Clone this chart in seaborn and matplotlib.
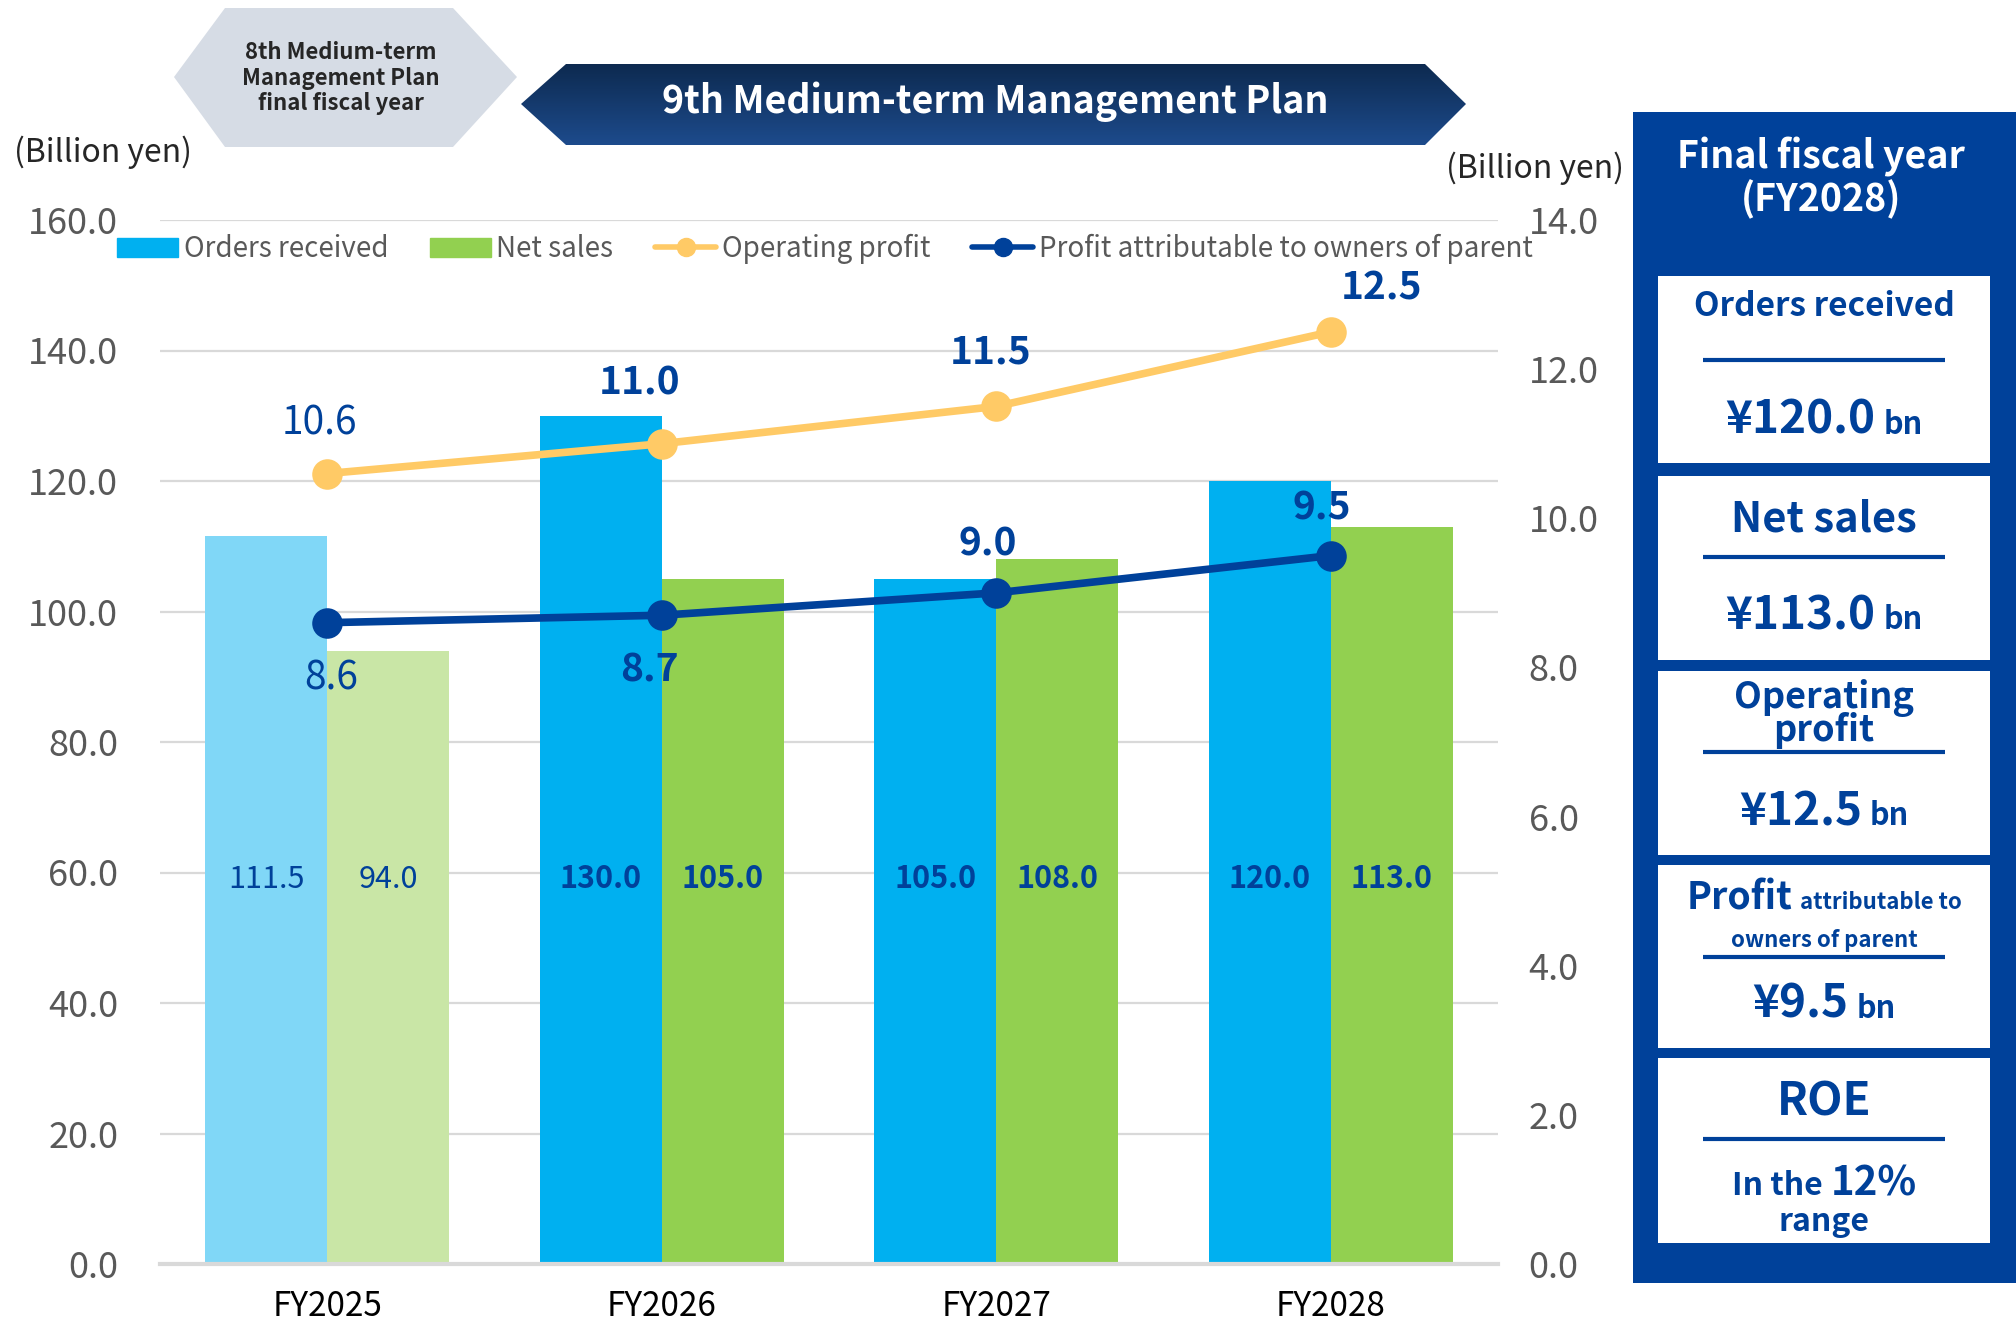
import numpy as np
import pandas as pd
import matplotlib
matplotlib.use("Agg")
import matplotlib.pyplot as plt
import seaborn as sns
from matplotlib.patches import Polygon, Rectangle, Patch
from matplotlib.lines import Line2D
from matplotlib.colors import LinearSegmentedColormap

# data
years = ["FY2025", "FY2026", "FY2027", "FY2028"]
orders = [111.5, 130.0, 105.0, 120.0]
net_sales = [94.0, 105.0, 108.0, 113.0]
op_profit = [10.6, 11.0, 11.5, 12.5]
parent_profit = [8.6, 8.7, 9.0, 9.5]

left_ticks = np.arange(0, 161, 20)
right_ticks = np.arange(0, 14.1, 2)

# colours
C_ORD = "#00B0F0"
C_ORD_LIGHT = "#80D7F7"
C_NET = "#92D050"
C_NET_LIGHT = "#C9E6A6"
C_OP = "#FFCA66"
C_PAR = "#00419A"
C_LBL = "#00419A"
C_GRAY = "#595959"

sns.set_style("white")
plt.rcParams["font.family"] = ["Noto Sans CJK JP", "DejaVu Sans"]

W, H = 2016, 1320
fig = plt.figure(figsize=(W / 100, H / 100), dpi=100)
ax = fig.add_axes([160 / W, 56 / H, 1338 / W, 1044 / H])
ax.set_facecolor("none")

# bars
df = pd.DataFrame({
    "year": years * 2,
    "metric": ["Orders received"] * 4 + ["Net sales"] * 4,
    "value": orders + net_sales,
})
sns.barplot(data=df, x="year", y="value", hue="metric", palette=[C_ORD, C_NET],
            width=0.73, saturation=1, linewidth=0, legend=False, ax=ax)
ax.containers[0][0].set_facecolor(C_ORD_LIGHT)
ax.containers[1][0].set_facecolor(C_NET_LIGHT)

for cont, vals in zip(ax.containers, [orders, net_sales]):
    for i, (bar, v) in enumerate(zip(cont, vals)):
        ax.text(bar.get_x() + bar.get_width() / 2, 59, f"{v:.1f}", ha="center", va="center",
                fontsize=22, color=C_LBL, fontweight="normal" if i == 0 else "bold")

ax.set_xlim(-0.5, 3.5)
ax.set_ylim(0, 160)
ax.set_yticks(left_ticks)
ax.set_yticklabels([f"{t:.1f}" for t in left_ticks])
ax.yaxis.grid(True, color="#D9D9D9", lw=1.6)
ax.set_axisbelow(True)
for s in ["top", "right", "left"]:
    ax.spines[s].set_visible(False)
ax.spines["bottom"].set_color("#D9D9D9")
ax.spines["bottom"].set_linewidth(3)
ax.tick_params(axis="y", length=0, pad=30, labelsize=26, labelcolor=C_GRAY)
ax.tick_params(axis="x", length=0, pad=18, labelsize=24, labelcolor="black")
ax.set_xlabel("")
ax.set_ylabel("")

# lines on secondary axis
ax2 = ax.twinx()
sns.lineplot(x=years, y=op_profit, ax=ax2, color=C_OP, lw=5.5, marker="o", markersize=22,
             markeredgewidth=0, sort=False)
sns.lineplot(x=years, y=parent_profit, ax=ax2, color=C_PAR, lw=5.5, marker="o", markersize=22,
             markeredgewidth=0, sort=False)
ax2.set_ylim(0, 14)
ax2.set_yticks(right_ticks)
ax2.set_yticklabels([f"{t:.1f}" for t in right_ticks])
ax2.tick_params(axis="y", length=0, pad=22, labelsize=26, labelcolor=C_GRAY)
ax2.grid(False)
for s in ax2.spines.values():
    s.set_visible(False)
ax2.set_ylabel("")

op_off = [(-8, 50), (-22, 61), (-6, 54), (51, 44)]
par_off = [(4, -56), (-12, -55), (-9, 49), (-9, 48)]
for line, vals, offs in [(ax2.lines[0], op_profit, op_off), (ax2.lines[1], parent_profit, par_off)]:
    xy = line.get_xydata()
    for i, ((x, y), v, o) in enumerate(zip(xy, vals, offs)):
        ax2.annotate(f"{v:.1f}", (x, y), xytext=o, textcoords="offset pixels", ha="center",
                     va="center", fontsize=28, color=C_LBL,
                     fontweight="normal" if i == 0 else "bold")

# legend
handles = [
    Patch(color=C_ORD),
    Patch(color=C_NET),
    Line2D([0], [0], color=C_OP, lw=4, marker="o", markersize=13),
    Line2D([0], [0], color=C_PAR, lw=4, marker="o", markersize=13),
]
labels = ["Orders received", "Net sales", "Operating profit", "Profit attributable to owners of parent"]
fig.legend(handles, labels, loc="center left", bbox_to_anchor=(92 / W, 1 - 249 / H), ncol=4,
           frameon=False, fontsize=20, handlelength=2.2, handletextpad=0.2, columnspacing=1.5,
           labelcolor=C_GRAY)

fig.text(103 / W, 1 - 152 / H, "(Billion yen)", ha="center", va="center", fontsize=23)
fig.text(1535 / W, 1 - 168 / H, "(Billion yen)", ha="center", va="center", fontsize=23)

# overlay in pixel coordinates for banners and panel
ov = fig.add_axes([0, 0, 1, 1])
ov.set_facecolor("none")
ov.axis("off")

hexa = Polygon([(174, 77), (225, 8), (453, 8), (517, 77), (453, 147), (225, 147)],
               closed=True, fc="#D6DCE5", ec="none")
ov.add_patch(hexa)
ov.text(341, 78, "8th Medium-term\nManagement Plan\nfinal fiscal year", ha="center", va="center",
        fontsize=16, fontweight="bold", linespacing=1.15)

banner = Polygon([(521, 104), (566, 64), (1425, 64), (1466, 104), (1425, 145), (566, 145)],
                 closed=True, fc="none", ec="none")
ov.add_patch(banner)
grad = np.linspace(0, 1, 100).reshape(-1, 1)
cmap = LinearSegmentedColormap.from_list("band", ["#0D2A50", "#1D4B8C"])
im = ov.imshow(grad, extent=[521, 1466, 145, 64], cmap=cmap, aspect="auto", origin="upper")
im.set_clip_path(banner)
ov.text(995, 102, "9th Medium-term Management Plan", ha="center", va="center", fontsize=27,
        fontweight="bold", color="white")

ov.add_patch(Rectangle((1633, 112), 383, 1171, fc=C_PAR, ec="none"))
ov.text(1821, 178, "Final fiscal year\n(FY2028)", ha="center", va="center", fontsize=27,
        fontweight="bold", color="white", linespacing=1.1)

boxes = [(276, 463), (476, 660), (671, 855), (865, 1048), (1058, 1243)]
for top, bot in boxes:
    ov.add_patch(Rectangle((1658, top), 332, bot - top, fc="white", ec="none"))
for ly in [360, 557, 752, 957, 1139]:
    ov.plot([1703, 1945], [ly, ly], color=C_PAR, lw=3, solid_capstyle="butt")

ov.set_xlim(0, W)
ov.set_ylim(H, 0)

renderer = fig.canvas.get_renderer()


def rich_line(parts, cx, y, gap=8):
    # parts: list of (text, size); centred as a group on cx, baseline y
    texts = []
    for s, size in parts:
        texts.append(ov.text(0, y, s, ha="left", va="baseline", fontsize=size,
                             fontweight="bold", color=C_PAR))
    widths = [t.get_window_extent(renderer).width for t in texts]
    total = sum(widths) + gap * (len(parts) - 1)
    x = cx - total / 2
    for t, w in zip(texts, widths):
        t.set_x(x)
        x += w + gap


cx = 1824
ov.text(cx, 307, "Orders received", ha="center", va="center", fontsize=24, fontweight="bold", color=C_PAR)
rich_line([("¥120.0", 33), ("bn", 22)], cx, 434)
ov.text(cx, 519, "Net sales", ha="center", va="center", fontsize=30, fontweight="bold", color=C_PAR)
rich_line([("¥113.0", 33), ("bn", 22)], cx, 629)
ov.text(cx, 714, "Operating\nprofit", ha="center", va="center", fontsize=26, fontweight="bold",
        color=C_PAR, linespacing=0.8)
rich_line([("¥12.5", 33), ("bn", 22)], cx, 825)
rich_line([("Profit", 27), ("attributable to", 16)], cx, 909)
ov.text(cx, 940, "owners of parent", ha="center", va="center", fontsize=16, fontweight="bold", color=C_PAR)
rich_line([("¥9.5", 33), ("bn", 22)], cx, 1018)
ov.text(cx, 1102, "ROE", ha="center", va="center", fontsize=33, fontweight="bold", color=C_PAR)
rich_line([("In the", 23), ("12%", 29)], cx, 1195)
ov.text(cx, 1222, "range", ha="center", va="center", fontsize=23, fontweight="bold", color=C_PAR)

fig.savefig("out.png", dpi=100)
